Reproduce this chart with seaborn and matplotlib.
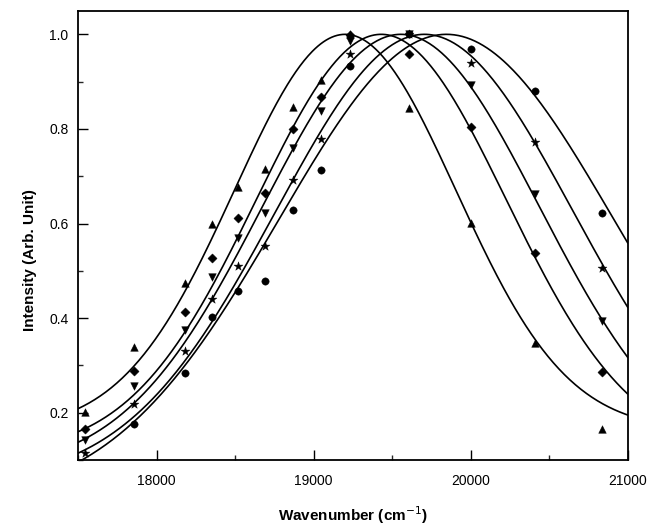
import numpy as np
import pandas as pd
import matplotlib
matplotlib.use("Agg")
import matplotlib.pyplot as plt
from matplotlib.ticker import MultipleLocator
import seaborn as sns

wavenumber = [17544, 17857, 18182, 18349, 18519, 18692, 18868, 19048, 19231, 19608, 20000, 20408, 20833]
tri_up   = [0.202, 0.338, 0.474, 0.600, 0.677, 0.716, 0.847, 0.903, 1.000, 0.845, 0.602, 0.347, 0.165]
diamond  = [0.165, 0.288, 0.412, 0.528, 0.612, 0.665, 0.799, 0.867, 0.999, 0.959, 0.804, 0.537, 0.287]
tri_down = [0.142, 0.256, 0.375, 0.488, 0.569, 0.622, 0.760, 0.838, 0.985, 1.000, 0.892, 0.662, 0.394]
star     = [0.114, 0.218, 0.330, 0.441, 0.511, 0.553, 0.693, 0.778, 0.959, 1.000, 0.939, 0.772, 0.507]
circle   = [np.nan, 0.177, 0.283, 0.402, 0.458, 0.479, 0.628, 0.714, 0.933, 1.000, 0.970, 0.880, 0.622]

# ---- points (x, y) ----
curve_tri_up_x   = [17512, 17857, 18085, 18187, 18615, 18720, 19230, 19608, 20056, 20399, 20828, 21000]
curve_tri_up_y   = [0.200, 0.287, 0.390, 0.475, 0.756, 0.830, 1.000, 0.856, 0.569, 0.366, 0.234, 0.198]
curve_diamond_x  = [17512, 17857, 18117, 18775, 20000, 20399, 20828, 21000]
curve_diamond_y  = [0.167, 0.235, 0.333, 0.756, 0.804, 0.537, 0.287, 0.251]
curve_tri_down_x = [17512, 17857, 18170, 18845, 20000, 20399, 20828, 21000]
curve_tri_down_y = [0.144, 0.220, 0.333, 0.756, 0.900, 0.663, 0.394, 0.322]
curve_star_x     = [17512, 17857, 18244, 18966, 20000, 20399, 20828, 21000]
curve_star_y     = [0.121, 0.184, 0.333, 0.756, 0.939, 0.772, 0.507, 0.446]
curve_circle_x   = [17512, 17857, 18287, 19019, 20000, 20399, 20828, 21000]
curve_circle_y   = [0.107, 0.174, 0.333, 0.756, 0.970, 0.880, 0.640, 0.580]

series_names = ["tri_up", "diamond", "tri_down", "star", "circle"]
series_vals = [tri_up, diamond, tri_down, star, circle]
curve_pts = [(curve_tri_up_x, curve_tri_up_y), (curve_diamond_x, curve_diamond_y),
             (curve_tri_down_x, curve_tri_down_y), (curve_star_x, curve_star_y),
             (curve_circle_x, curve_circle_y)]

markers = {"tri_up": "^", "diamond": "D", "tri_down": "v", "star": "*", "circle": "o"}
msizes = {"tri_up": 30, "diamond": 22, "tri_down": 30, "star": 45, "circle": 28}

xticks = [18000, 19000, 20000, 21000]
yticks = [0.2, 0.4, 0.6, 0.8, 1.0]

rows = []
for name, vals in zip(series_names, series_vals):
    for xv, yv in zip(wavenumber, vals):
        rows.append({"x": xv, "y": yv, "series": name})
df = pd.DataFrame(rows).dropna()


def fit_unit_gauss(x, y):
    """Least-squares fit of y = b + (1-b)*exp(-(x-xc)^2/(2 w^2))."""
    x = np.asarray(x, float)
    y = np.asarray(y, float)
    xcs = np.arange(18800, 20400, 5.0)
    ws = np.arange(400, 1600, 5.0)
    g = np.exp(-((x[None, None, :] - xcs[:, None, None]) ** 2) / (2 * ws[None, :, None] ** 2))
    h = 1 - g
    b = ((y - g) * h).sum(-1) / (h ** 2).sum(-1)
    sse = ((y - g - b[..., None] * h) ** 2).sum(-1)
    i, j = np.unravel_index(np.argmin(sse), sse.shape)
    return xcs[i], ws[j], b[i, j]


xfine = np.linspace(17500, 21000, 400)
curve_rows = []
for name, (cx, cy) in zip(series_names, curve_pts):
    xc, w, b = fit_unit_gauss(cx, cy)
    yf = b + (1 - b) * np.exp(-((xfine - xc) ** 2) / (2 * w ** 2))
    for xv, yv in zip(xfine, yf):
        curve_rows.append({"x": xv, "y": yv, "series": name})
cdf = pd.DataFrame(curve_rows)

sns.set_theme(style="ticks")
plt.rcParams["font.family"] = ["Liberation Sans", "DejaVu Sans"]

fig = plt.figure(figsize=(6.52, 5.29), dpi=100)
ax = fig.add_axes([0.12, 0.1304, 0.8428, 0.8494])

sns.lineplot(data=cdf, x="x", y="y", units="series", estimator=None,
             color="black", linewidth=1.2, ax=ax, legend=False)
for name in series_names:
    sub = df[df.series == name]
    sns.scatterplot(data=sub, x="x", y="y", marker=markers[name], s=msizes[name],
                    color="black", edgecolor="black", linewidth=0.3, ax=ax, legend=False, zorder=3)

ax.set_xlim(17500, 21000)
ax.set_ylim(0.1, 1.05)
ax.set_xticks(xticks)
ax.set_yticks(yticks)
ax.set_xticklabels([str(t) for t in xticks])
ax.set_yticklabels([f"{t:.1f}" for t in yticks])
ax.xaxis.set_minor_locator(MultipleLocator(500))
ax.yaxis.set_minor_locator(MultipleLocator(0.1))
ax.tick_params(axis="both", which="major", direction="in", length=7, width=1.0,
               labelsize=10, colors="black", top=False, right=False)
ax.tick_params(axis="x", which="major", pad=10)
ax.tick_params(axis="y", which="major", pad=7)
ax.tick_params(axis="both", which="minor", direction="in", length=3.5, width=1.0,
               top=False, right=False)
for sp in ax.spines.values():
    sp.set_color("black")
    sp.set_linewidth(1.3)

ax.set_xlabel("Wavenumber (cm$^{-1}$)", fontsize=11, fontweight="bold", color="black")
ax.set_ylabel("Intensity (Arb. Unit)", fontsize=11, fontweight="bold", color="black")
ax.xaxis.set_label_coords(0.5, -0.098)
ax.yaxis.set_label_coords(-0.075, 0.445)

fig.savefig("out.png", dpi=100)
